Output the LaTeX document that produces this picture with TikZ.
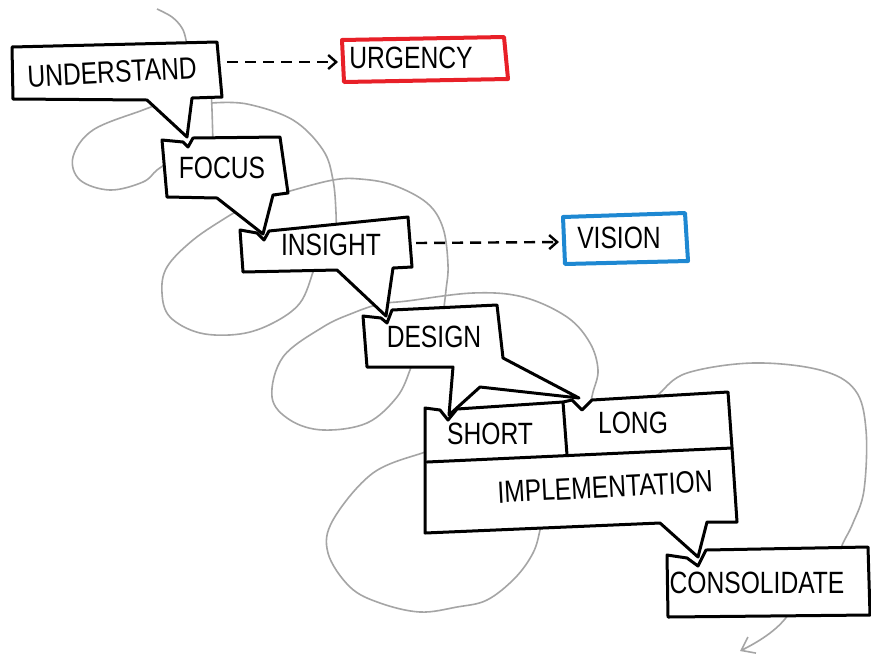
\documentclass[tikz,border=0pt]{standalone}
\usepackage{fontspec}
\newfontfamily\handfont{Liberation Sans}[FakeStretch=0.8]
\usetikzlibrary{arrows.meta}
\definecolor{redbox}{RGB}{232,32,40}
\definecolor{bluebox}{RGB}{30,136,210}
\definecolor{coilgray}{RGB}{165,165,165}
\begin{document}
\begin{tikzpicture}[x=0.5pt,y=-0.5pt,
  box/.style={draw=black,fill=white,line width=1.5pt,line join=round},
  divider/.style={draw=black,line width=1.5pt,line cap=round},
  coil/.style={draw=coilgray,line width=0.8pt},
  lbl/.style={font=\handfont\fontsize{15.4}{16}\selectfont,inner sep=0pt},
  dasharrow/.style={draw=black,line width=1.2pt,dash pattern=on 5.5pt off 3.5pt,
    -{Straight Barb[length=4pt,width=7pt,line width=1.2pt]}}]
\useasboundingbox (0,0) rectangle (871,654);
\fill[white] (0,0) rectangle (871,654);

% ---- grey coil in the background ----
\draw[coil] plot[smooth,tension=0.6] coordinates {(157,9) (172,17) (182,28) (186,40) (188,55)};
\draw[coil] plot[smooth,tension=0.6] coordinates {(211,88) (212,110) (213,145)};
\draw[coil] plot[smooth,tension=0.6] coordinates {(212,103) (247,104) (293,120) (323,150) (333,180) (336,213) (336,235)};
\draw[coil] plot[smooth,tension=0.6] coordinates {(165,102) (143,110) (93,130) (73,157) (80,180) (110,190) (143,182) (157,170) (172,160)};
\draw[coil] plot[smooth,tension=0.6] coordinates {(275,196) (290,191) (333,180) (360,179) (393,185) (427,203) (443,228) (448,265) (446,290) (443,315)};
\draw[coil] plot[smooth,tension=0.6] coordinates {(240,210) (227,217) (193,240) (167,267) (162,293) (170,317) (200,333) (240,334) (273,323) (300,303) (313,272) (315,262)};
\draw[coil] plot[smooth,tension=0.6] coordinates {(412,360) (410,370) (397,397) (367,423) (323,430) (290,420) (272,397) (283,357) (323,327) (353,313) (380,304) (407,301) (473,293) (523,297) (567,317) (590,343) (598,370) (593,392) (590,405)};
\draw[coil] plot[smooth,tension=0.6] coordinates {(542,515) (540,530) (533,553) (515,578) (487,600) (457,607) (420,612) (380,603) (350,587) (328,553) (333,520) (373,473) (425,452) (435,448)};
\draw[coil] plot[smooth,tension=0.6] coordinates {(655,400) (660,393) (687,373) (753,363) (820,370) (855,390) (866,430) (864,490) (853,523) (843,543) (838,556)};
\coordinate (arrowstart) at (790,612);
\coordinate (arrowend) at (740,651);
\draw[coil,-{Straight Barb[length=6pt,width=9pt,line width=0.8pt]}] (arrowstart) .. controls (780,628) and (762,640) .. (arrowend);

% ---- boxes (lower first) ----
\path[box] (667,555) -- (687,558) -- (698,566) -- (706,550) -- (868,547) -- (870,615) -- (668,617) -- cycle;
\path[box] (425,408) -- (440,410) -- (448,420) -- (457,409) -- (563,402) -- (572,400) -- (582,410) -- (592,400) -- (728,392) -- (732,448) -- (737,522) -- (707,522) -- (698,557) -- (660,523) -- (425,533) -- cycle;
\draw[divider] (563,402) -- (567,455);
\draw[divider] (427,462) -- (732,448);
\path[box] (363,316) -- (381,318) -- (387,323) -- (392,310) -- (497,305) -- (503,358) -- (579,398) -- (480,387) -- (449,415) -- (453,367) -- (367,367) -- cycle;
\path[box] (240,230) -- (257,233) -- (264,240) -- (269,231) -- (408,217) -- (412,267) -- (393,268) -- (386,316) -- (337,270) -- (243,272) -- cycle;
\path[box] (162,140) -- (183,142) -- (188,147) -- (193,138) -- (280,137) -- (288,193) -- (273,195) -- (263,234) -- (217,198) -- (167,197) -- cycle;
\path[box] (12,47) -- (217,42) -- (222,97) -- (192,98) -- (187,137) -- (147,100) -- (13,99) -- cycle;
\path[draw=redbox,fill=white,line width=2pt,line join=round] (342,40) -- (504,37) -- (508,79) -- (344,82) -- cycle;
\path[draw=bluebox,fill=white,line width=2pt,line join=round] (563,217) -- (685,213) -- (688,261) -- (565,264) -- cycle;

% ---- labels ----
\node[lbl,rotate=3] (understand) at (112,72) {UNDERSTAND};
\node[lbl] (urgency) at (411,58) {URGENCY};
\node[lbl] (focus) at (222,168) {FOCUS};
\node[lbl] (insight) at (331,245) {INSIGHT};
\node[lbl] (vision) at (619,238) {VISION};
\node[lbl] (design) at (434,337) {DESIGN};
\node[lbl] (short) at (490,434) {SHORT};
\node[lbl] (long) at (633,423) {LONG};
\node[lbl,rotate=3] (impl) at (605,487) {IMPLEMENTATION};
\node[lbl] (consolidate) at (757,583) {CONSOLIDATE};

% ---- dashed arrows ----
\coordinate (understand-out) at (227,62);
\coordinate (urgency-in) at (338,62);
\coordinate (insight-out) at (416,243);
\coordinate (vision-in) at (559,242);
\draw[dasharrow] (understand-out) -- (urgency-in);
\draw[dasharrow] (insight-out) -- (vision-in);
\end{tikzpicture}
\end{document}
